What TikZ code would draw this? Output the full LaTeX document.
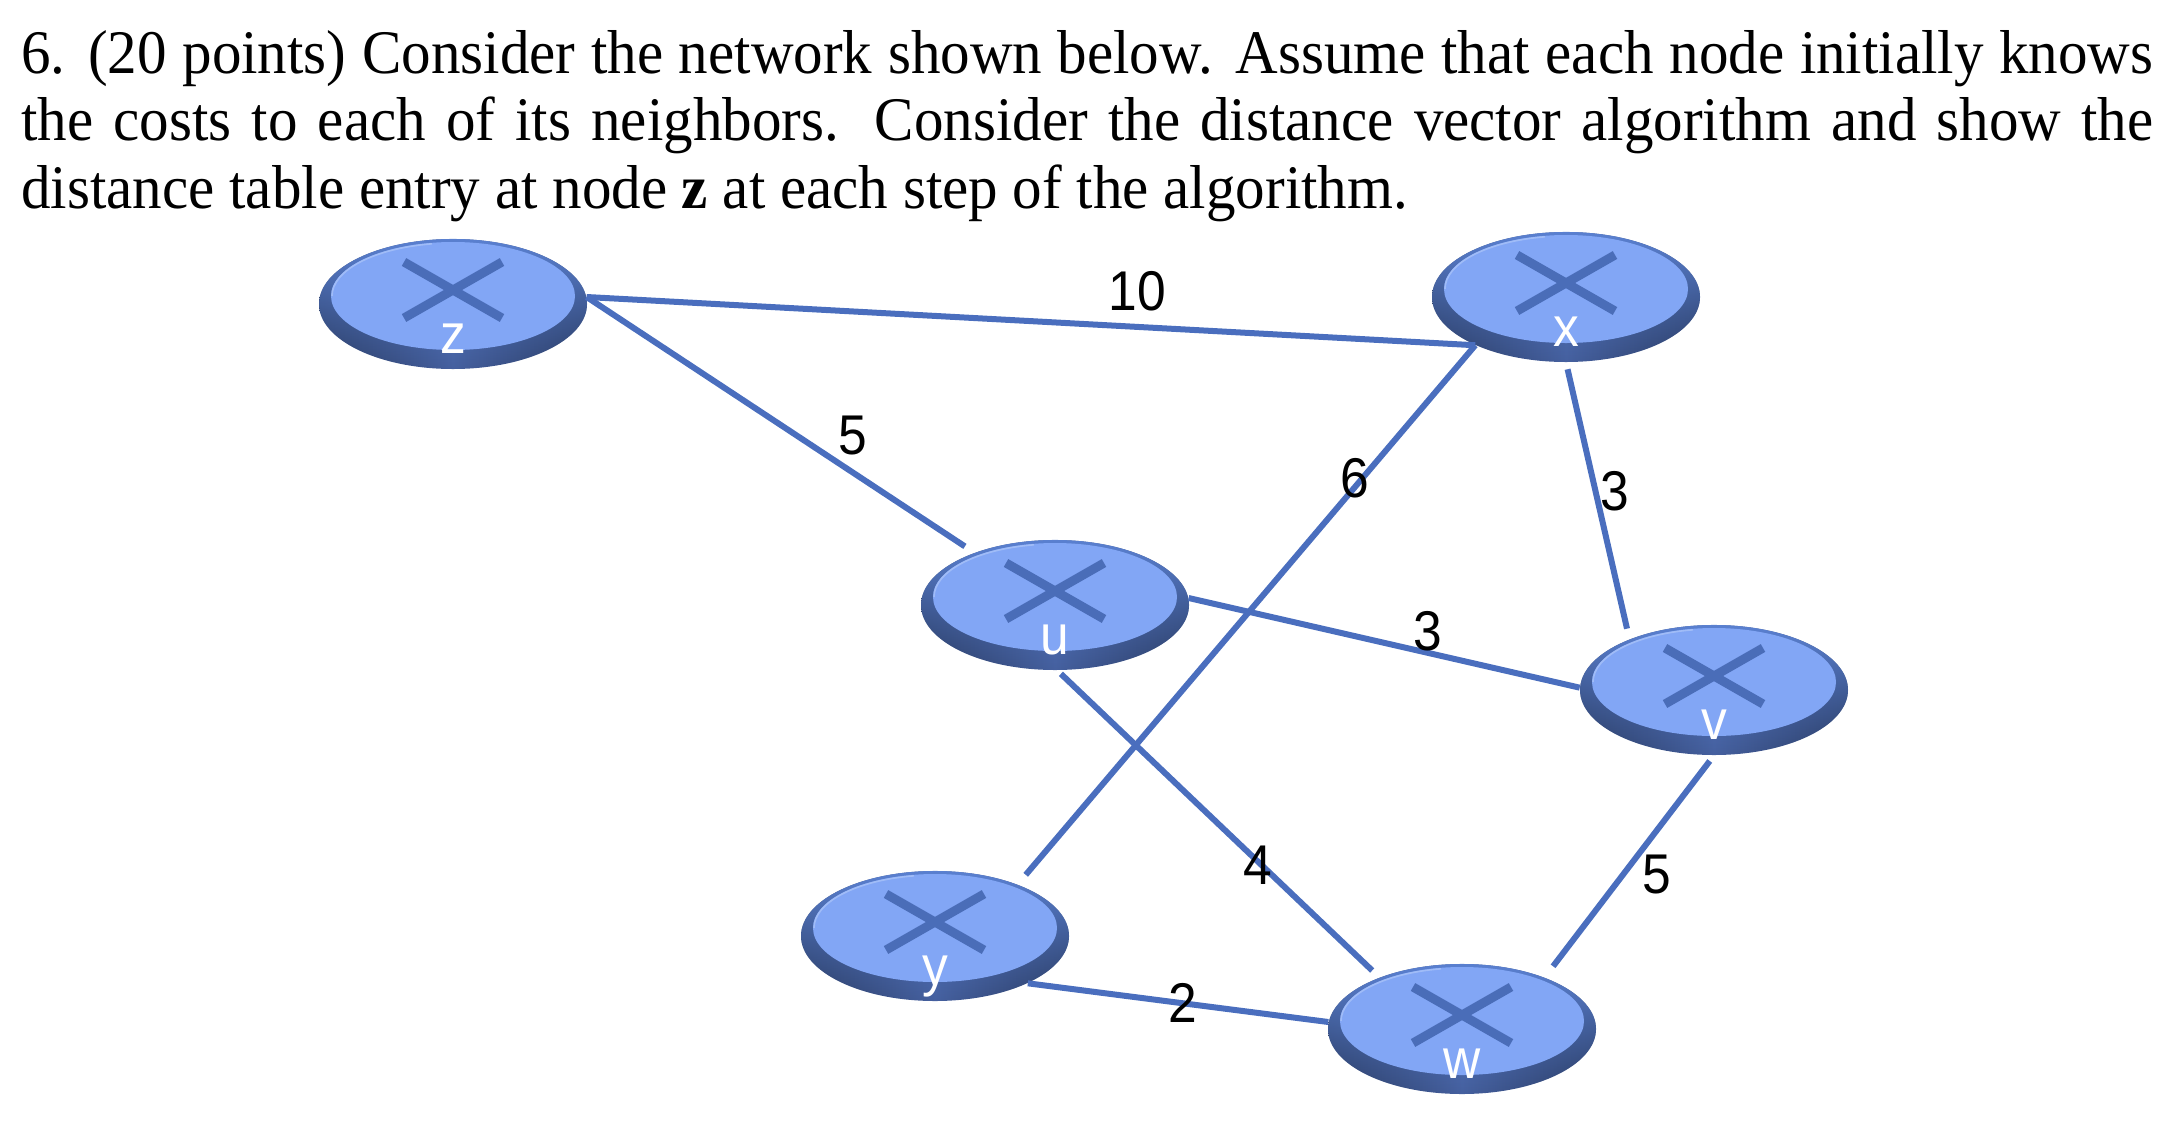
\documentclass[tikz,border=0pt]{standalone}
\usepackage{fontspec}
\setmainfont[FakeStretch=0.952]{Liberation Serif}
\newfontfamily\lblfont[FakeStretch=0.92]{Liberation Sans}
\usetikzlibrary{shapes.geometric,fadings}
\definecolor{linkblue}{HTML}{4A6EBE}
\definecolor{crossblue}{HTML}{4A6DB8}
\definecolor{facecol}{HTML}{82A6F5}
\definecolor{rimcol}{HTML}{5A80D0}
\definecolor{hilite}{HTML}{A0BCF7}
\definecolor{rimdark}{HTML}{28395F}
\definecolor{rimmid}{HTML}{45609F}
\tikzset{
  routerbase/.style={ellipse,draw=none,inner sep=0pt,minimum width=134pt,minimum height=65pt,
    left color=rimdark,right color=rimdark,middle color=rimmid},
  routerlabel/.style={anchor=base,text=white,inner sep=0pt,font=\lblfont\fontsize{28}{30}\selectfont},
  costlabel/.style={text=black,inner sep=0pt,font=\lblfont\fontsize{28}{30}\selectfont},
  textline/.style={anchor=base west,inner sep=0pt,font=\fontsize{31}{34}\selectfont},
  link/.style={draw=linkblue,line width=3pt},
  crossbar/.style={draw=crossblue,line width=4.5pt}
}
% #1 name, #2 position, #3 label
\newcommand{\routerpic}[3]{%
  \node[routerbase] (#1) at (#2) {};
  \begin{scope}[shift={(#2)}]
    \fill[rimcol,path fading=south] (0,0) ellipse [x radius=67pt,y radius=32.5pt];
    \fill[facecol] (0,-8) ellipse [x radius=61pt,y radius=27pt];
    \draw[hilite,line width=0.8pt] (-60.5pt,4pt) arc [start angle=180,end angle=100,x radius=60.5pt,y radius=26.5pt];
    \draw[crossbar] (-49,-42) -- (49,14);
    \draw[crossbar] (49,-42) -- (-49,14);
    \node[routerlabel] (#1label) at (0,49) {#3};
  \end{scope}
}
\begin{document}
\begin{tikzpicture}[x=0.5pt,y=-0.5pt]
\useasboundingbox (0,0) rectangle (2174,1120);
\node[textline] (t1) at (21,73) {\makebox[1066pt][s]{6. (20 points) Consider the network shown below. Assume that each node initially knows}};
\node[textline] (t2) at (21,140) {\makebox[1066pt][s]{the costs to each of its neighbors. Consider the distance vector algorithm and show the}};
\node[textline] (t3) at (21,208) {distance table entry at node \textbf{z} at each step of the algorithm.};
\routerpic{z}{453,304}{z}
\routerpic{x}{1566,297}{x}
\routerpic{u}{1055,605}{u}
\routerpic{v}{1714,690}{v}
\routerpic{y}{935,936}{y}
\routerpic{w}{1462,1029}{w}
\draw[link] (z.3) -- (x.208);
\draw[link,shorten >=5.7pt] (z.3) -- (u.147);
\draw[link,shorten >=6.3pt] (x.208) -- (y.32);
\draw[link,shorten <=3.5pt,shorten >=5.4pt] (x.270) -- (v.149);
\draw[link] (u.3.5) -- (v.179);
\draw[link,shorten <=2.5pt,shorten >=5pt] (u.272) -- (w.148);
\draw[link,shorten <=3.5pt,shorten >=7pt] (v.270) -- (w.32);
\draw[link] (y.333) -- (w.177);
\node[costlabel] (c1) at (1137,291) {10};
\node[costlabel] (c2) at (853,436) {5};
\node[costlabel] (c3) at (1355,478) {6};
\node[costlabel] (c4) at (1615,491) {3};
\node[costlabel] (c5) at (1428,631) {3};
\node[costlabel] (c6) at (1258,865) {4};
\node[costlabel] (c7) at (1657,874) {5};
\node[costlabel] (c8) at (1183,1003) {2};
\end{tikzpicture}
\end{document}
